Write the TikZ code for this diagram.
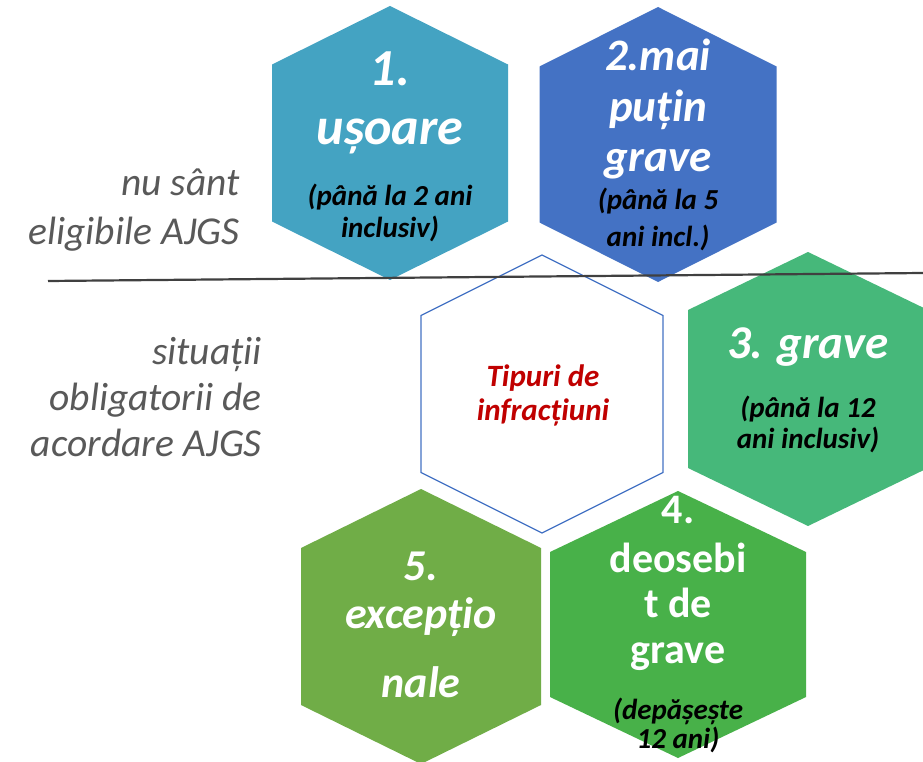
\documentclass[tikz,border=0pt]{standalone}
\usepackage{fontspec}
\setmainfont{Carlito}
\definecolor{hexA}{HTML}{44A3C2}
\definecolor{hexB}{HTML}{4472C4}
\definecolor{hexC}{HTML}{46B87A}
\definecolor{hexD}{HTML}{48B149}
\definecolor{hexE}{HTML}{70AD47}
\definecolor{sidegray}{HTML}{595959}
\definecolor{redtxt}{HTML}{C00000}
\definecolor{rulegray}{HTML}{404040}
\newcommand\fz[1]{\fontsize{#1}{#1}\selectfont}
\tikzset{
  hexshape/.style n args={5}{insert path={(#1,#2-#4) -- (#1+#3,#2-#5) -- (#1+#3,#2+#5) -- (#1,#2+#4) -- (#1-#3,#2+#5) -- (#1-#3,#2-#5) -- cycle}},
  wtxt/.style={text=white, anchor=base, inner sep=0pt, font=\bfseries\itshape\fz{#1}},
  wup/.style={text=white, anchor=base, inner sep=0pt, font=\bfseries\fz{#1}},
  btxt/.style={text=black, anchor=base, inner sep=0pt, font=\bfseries\itshape\fz{#1}},
  rtxt/.style={text=redtxt, anchor=base, inner sep=0pt, font=\bfseries\itshape\fz{#1}},
  side/.style={text=sidegray, anchor=base east, inner sep=0pt, font=\itshape\fz{39.5}},
}
\begin{document}
\begin{tikzpicture}[x=1pt,y=-1pt]
\clip (0,0) rectangle (923,762);
\fill[white] (0,0) rectangle (923,762);
% hexagons
\fill[hexA, hexshape={390}{143}{118}{137}{78.5}];
\fill[hexB, hexshape={658}{144.5}{118.5}{137.5}{78}];
\draw[hexB, line width=1.3pt, hexshape={542}{394}{121}{139}{78.5}];
\fill[hexC, hexshape={808}{389}{120}{137}{79}];
\fill[hexD, hexshape={678}{624.5}{128}{133.5}{72.5}];
\fill[hexE, hexshape={421}{626.5}{120}{137.5}{78.5}];
% divider
\coordinate (ruleL) at (48,281);
\coordinate (ruleR) at (923,273);
\draw[rulegray, line width=2.2pt] (ruleL) -- (ruleR);
% hex 1
\node[wtxt=52] (h1a) at (390,86) {1.};
\node[wtxt=52] (h1b) at (390,145) {ușoare};
\node[btxt=29] (h1c) at (390,205) {(până la 2 ani};
\node[btxt=29] (h1d) at (390,237) {inclusiv)};
% hex 2
\node[wtxt=45] (h2a) at (658,71) {2.mai};
\node[wtxt=45] (h2b) at (658,122) {puțin};
\node[wtxt=45] (h2c) at (658,172) {grave};
\node[btxt=29] (h2d) at (658,209) {(până la 5};
\node[btxt=29] (h2e) at (658,246) {ani incl.)};
% center
\node[rtxt=31] (hca) at (543,386) {Tipuri de};
\node[rtxt=31] (hcb) at (543,420) {infracțiuni};
% hex 3
\node[wtxt=47] (h3a) at (808,358) {3. grave};
\node[btxt=29] (h3b) at (808,417) {(până la 12};
\node[btxt=29] (h3c) at (808,448) {ani inclusiv)};
% hex 4
\node[wup=42] (h4a) at (678,523) {4.};
\node[wup=42] (h4b) at (678,572) {deosebi};
\node[wup=42] (h4c) at (678,617) {t de};
\node[wup=42] (h4d) at (678,663) {grave};
\node[btxt=29] (h4e) at (678,719) {(depășește};
\node[btxt=29] (h4f) at (678,748) {12 ani)};
% hex 5
\node[wtxt=44] (h5a) at (421,580) {5.};
\node[wtxt=44] (h5b) at (421,628) {excepțio};
\node[wtxt=44] (h5c) at (421,697) {nale};
% side labels
\node[side] (s1) at (240,196) {nu sânt};
\node[side] (s2) at (240,244) {eligibile AJGS};
\node[side] (s3) at (262,364) {situații};
\node[side] (s4) at (262,410) {obligatorii de};
\node[side] (s5) at (262,456) {acordare AJGS};
\end{tikzpicture}
\end{document}
